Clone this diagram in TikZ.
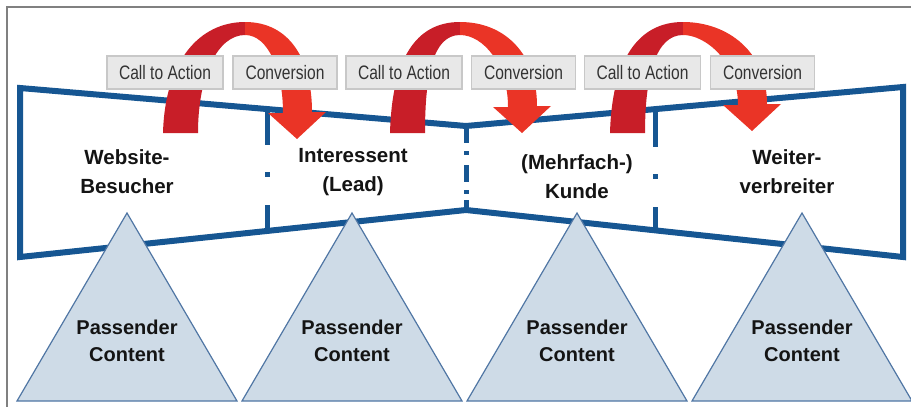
\documentclass[tikz,border=0pt]{standalone}
\usepackage{fontspec}
\setmainfont{Liberation Sans}
\newfontfamily\boxfont[FakeStretch=0.8]{Liberation Sans}
\definecolor{bowblue}{RGB}{22,86,146}
\definecolor{trifill}{RGB}{206,219,231}
\definecolor{triline}{RGB}{80,118,164}
\definecolor{darkred}{RGB}{200,30,40}
\definecolor{brightred}{RGB}{234,52,38}
\definecolor{boxfill}{RGB}{232,232,232}
\definecolor{boxline}{RGB}{200,200,200}
\definecolor{framegray}{RGB}{128,128,128}
\newcommand\mkRedArrow[4]{%
  \fill[darkred] ({163+#1},133) .. controls ({165+#1},60) and ({200+#2},22) .. ({245+#2},22)
    -- ({245+#2},35) .. controls ({218+#2},35) and ({198+#1},75) .. ({198+#1},133) -- cycle;
  \fill[brightred] ({245+#2},22) .. controls ({290+#2},22) and ({312+#3},{60+#4}) .. ({312+#3},{112+#4})
    -- ({326+#3},{112+#4}) -- ({297+#3},{139+#4}) -- ({268+#3},{113+#4}) -- ({283+#3},{113+#4})
    .. controls ({283+#3},{70+#4}) and ({268+#2},35) .. ({245+#2},35) -- cycle;}
\tikzset{
  bowline/.style={draw=bowblue, line width=6pt, line join=miter},
  divline/.style={draw=bowblue, line width=5pt},
  tri/.style={fill=trifill, draw=triline, line width=1.2pt, line join=miter},
  lbox/.style={rectangle, fill=boxfill, draw=boxline, line width=1.2pt, minimum height=33pt,
     inner sep=0pt, font=\boxfont\fontsize{19.5}{20}\selectfont, text=black!80},
  stage/.style={align=center, font=\fontsize{20.5}{29}\selectfont\bfseries, text=black!92},
  tritext/.style={align=center, font=\fontsize{20}{27}\selectfont\bfseries, text=black!92},
}
\begin{document}
\begin{tikzpicture}[x=1pt, y=-1pt]
\useasboundingbox (0,0) rectangle (911,407);
% frame
\draw[framegray, line width=2pt] (911,7) -- (7,7) -- (7,407);
% bow tie
\path[bowline] (20,88) -- (466,126) -- (903,87) -- (903,257) -- (466,210) -- (20,257) -- cycle;
% dividers
\path[divline] (267,110) -- (267,145) (267,172) -- (267,177) (267,205) -- (267,231);
\path[divline] (466,126) -- (466,143) (466,151) -- (466,155) (466,165) -- (466,182)
   (466,190) -- (466,194) (466,200) -- (466,210);
\path[divline] (655,111) -- (655,147) (655,174) -- (655,179) (655,207) -- (655,230);
% stage labels
\node[stage] (s1) at (127,172) {Website-\\Besucher};
\node[stage] (s2) at (353,172) {Interessent\\(Lead)};
\node[stage] (s3) at (577,177) {(Mehrfach-)\\Kunde};
\node[stage] (s4) at (787,172) {Weiter-\\verbreiter};
% red curved arrows
\mkRedArrow{0}{0}{0}{0}
\mkRedArrow{227}{215}{225}{-6}
\mkRedArrow{447}{438}{455}{-8}
% label boxes
\node[lbox, minimum width=116pt] (c1) at (165,72.5) {Call to Action};
\node[lbox, minimum width=104pt] (v1) at (285,72.5) {Conversion};
\node[lbox, minimum width=116pt] (c2) at (404,72.5) {Call to Action};
\node[lbox, minimum width=104pt] (v2) at (523.5,72.5) {Conversion};
\node[lbox, minimum width=116pt] (c3) at (642.5,72.5) {Call to Action};
\node[lbox, minimum width=104pt] (v3) at (762.5,72.5) {Conversion};
% triangles
\foreach \cx/\nm in {127/t1, 352/t2, 577/t3, 802/t4} {
  \path[tri] (\cx,213) -- ({\cx+110},401) -- ({\cx-110},401) -- cycle;
  \node[tritext] (\nm) at (\cx,341) {Passender\\Content};
}
\end{tikzpicture}
\end{document}
